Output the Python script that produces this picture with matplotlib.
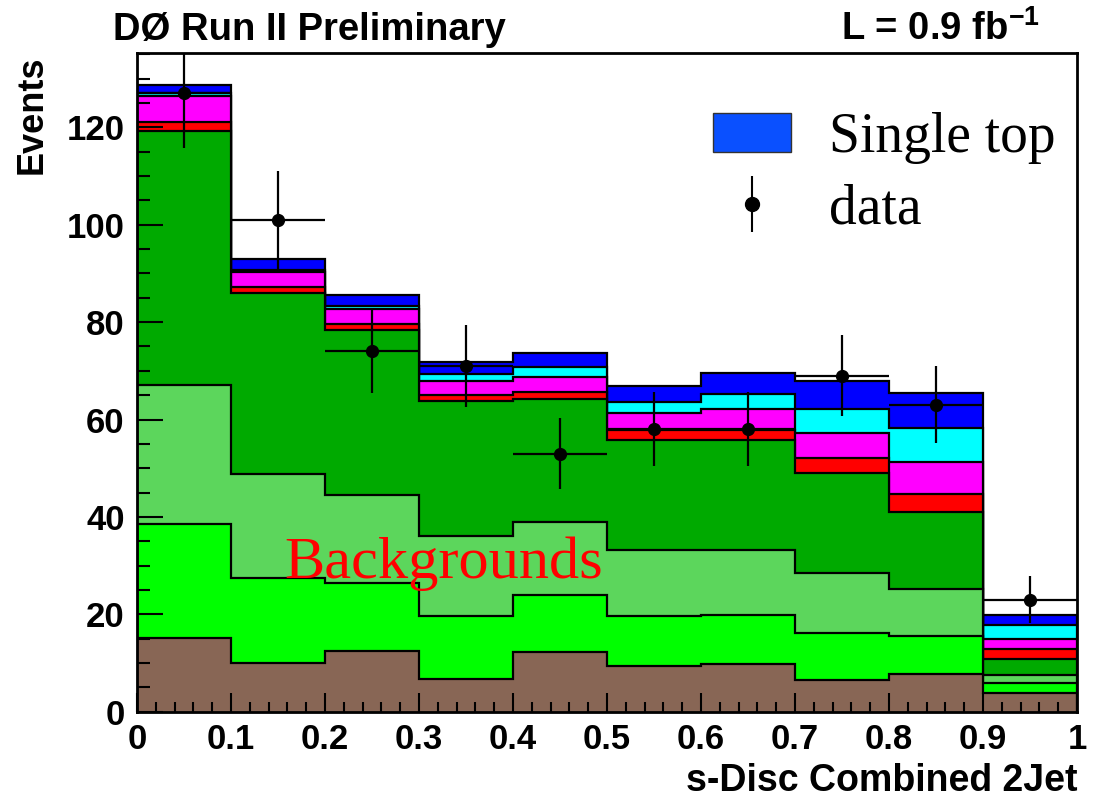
import numpy as np
import matplotlib
matplotlib.use("Agg")
import matplotlib.pyplot as plt
from matplotlib.patches import Patch
from matplotlib.ticker import MultipleLocator, FuncFormatter

# -------------------------
#  DATA
# -------------------------
bin_edges = [0.0, 0.1, 0.2, 0.3, 0.4, 0.5, 0.6, 0.7, 0.8, 0.9, 1.0]

# background / signal yields per bin, bottom of the stack first
bkg_brown = [15.1, 10.1, 12.5, 6.7, 12.3, 9.4, 9.8, 6.6, 7.7, 3.9]
bkg_lime = [23.4, 17.4, 14.0, 12.9, 11.7, 10.2, 10.1, 9.5, 7.9, 1.9]
bkg_lightgreen = [28.6, 21.3, 18.0, 16.5, 15.0, 13.7, 13.3, 12.3, 9.5, 1.7]
bkg_darkgreen = [52.2, 37.2, 33.9, 27.7, 25.2, 22.6, 22.6, 20.7, 16.0, 3.3]
bkg_red = [1.8, 1.3, 1.2, 1.2, 1.4, 1.9, 2.0, 2.9, 3.7, 2.0]
bkg_magenta = [5.3, 2.9, 3.0, 3.0, 3.2, 3.5, 4.3, 5.2, 6.4, 2.1]
sig_cyan = [0.6, 0.6, 0.8, 1.3, 1.9, 2.2, 3.1, 4.9, 7.0, 2.9]
sig_blue = [1.7, 2.1, 2.2, 2.6, 2.9, 3.4, 4.3, 5.9, 7.2, 2.1]

data_counts = [127, 101, 74, 71, 53, 58, 58, 69, 63, 23]
data_errors = [11.3, 10.0, 8.6, 8.4, 7.3, 7.6, 7.6, 8.3, 7.9, 4.8]

layers = [bkg_brown, bkg_lime, bkg_lightgreen, bkg_darkgreen,
          bkg_red, bkg_magenta, sig_cyan, sig_blue]
layer_colors = ["#886655", "#00ff00", "#5cd65c", "#00aa00",
                "#ff0000", "#ff00ff", "#00ffff", "#0000ff"]

SANS = ["Liberation Sans", "DejaVu Sans"]
SERIF = ["Liberation Serif", "DejaVu Serif"]

plt.rcParams["font.family"] = SANS
plt.rcParams["mathtext.fontset"] = "custom"
plt.rcParams["mathtext.rm"] = "Liberation Sans:bold"
plt.rcParams["mathtext.it"] = "Liberation Sans:bold"
plt.rcParams["mathtext.bf"] = "Liberation Sans:bold"

fig = plt.figure(figsize=(10.97, 7.98), dpi=100)
ax = fig.add_axes([0.1249, 0.1081, 0.8569, 0.8251])

edges = np.array(bin_edges)
centers = 0.5 * (edges[:-1] + edges[1:])
half_width = 0.5 * np.diff(edges)

# stacked histogram, drawn ROOT-style: biggest first, each filled from zero
cumulative = np.cumsum(np.array(layers), axis=0)
for level, color in reversed(list(zip(cumulative, layer_colors))):
    ax.stairs(level, edges, fill=True, facecolor=color,
              edgecolor="black", linewidth=1.6)

# data points
ax.errorbar(centers, data_counts, xerr=half_width, yerr=data_errors,
            fmt="o", color="black", markersize=8.5, elinewidth=1.6,
            capsize=0, zorder=5)

ax.set_xlim(0, 1)
ax.set_ylim(0, 135.2)

ax.xaxis.set_major_locator(MultipleLocator(0.1))
ax.xaxis.set_minor_locator(MultipleLocator(0.02))
ax.yaxis.set_major_locator(MultipleLocator(20))
ax.yaxis.set_minor_locator(MultipleLocator(5))
ax.xaxis.set_major_formatter(FuncFormatter(lambda v, p: f"{v:g}"))

ax.tick_params(axis="both", which="both", direction="in",
               top=False, right=False, width=1.5, labelsize=25)
ax.tick_params(axis="x", which="major", length=14, pad=8)
ax.tick_params(axis="x", which="minor", length=7)
ax.tick_params(axis="y", which="major", length=19, pad=9)
ax.tick_params(axis="y", which="minor", length=9.5)
for lbl in ax.get_xticklabels() + ax.get_yticklabels():
    lbl.set_fontweight("bold")
for sp in ax.spines.values():
    sp.set_linewidth(2)
    sp.set_zorder(10)

ax.set_xlabel("s-Disc Combined 2Jet", loc="right", fontsize=27,
              fontweight="bold", labelpad=5)
fig.text(0.029, 0.931, "Events", rotation=90, ha="center", va="top",
         fontsize=26, fontweight="bold")

fig.text(0.103, 0.950, "DØ Run II Preliminary", ha="left", va="baseline",
         fontsize=27.5, fontweight="bold")
fig.text(0.948, 0.950, r"L = 0.9 fb$^{-1}$", ha="right", va="baseline",
         fontsize=27.5, fontweight="bold")

ax.text(0.157, 27.5, "Backgrounds", color="red", fontsize=43.5,
        family=SERIF, va="baseline", zorder=6)

# legend
sig_handle = Patch(facecolor="#0a50ff", edgecolor="#333333", linewidth=1)
data_handle = ax.errorbar([], [], yerr=[], fmt="o", color="black",
                          markersize=10, elinewidth=1.5, capsize=0)
leg = ax.legend([sig_handle, data_handle], ["Single top", "data"],
                loc="upper left", bbox_to_anchor=(0.583, 0.953),
                frameon=False,
                prop={"family": SERIF, "size": 40, "weight": "normal"},
                handlelength=1.4, handleheight=0.72, handletextpad=0.7,
                labelspacing=0.35, borderpad=0.0)

fig.savefig("out.png", dpi=100)
